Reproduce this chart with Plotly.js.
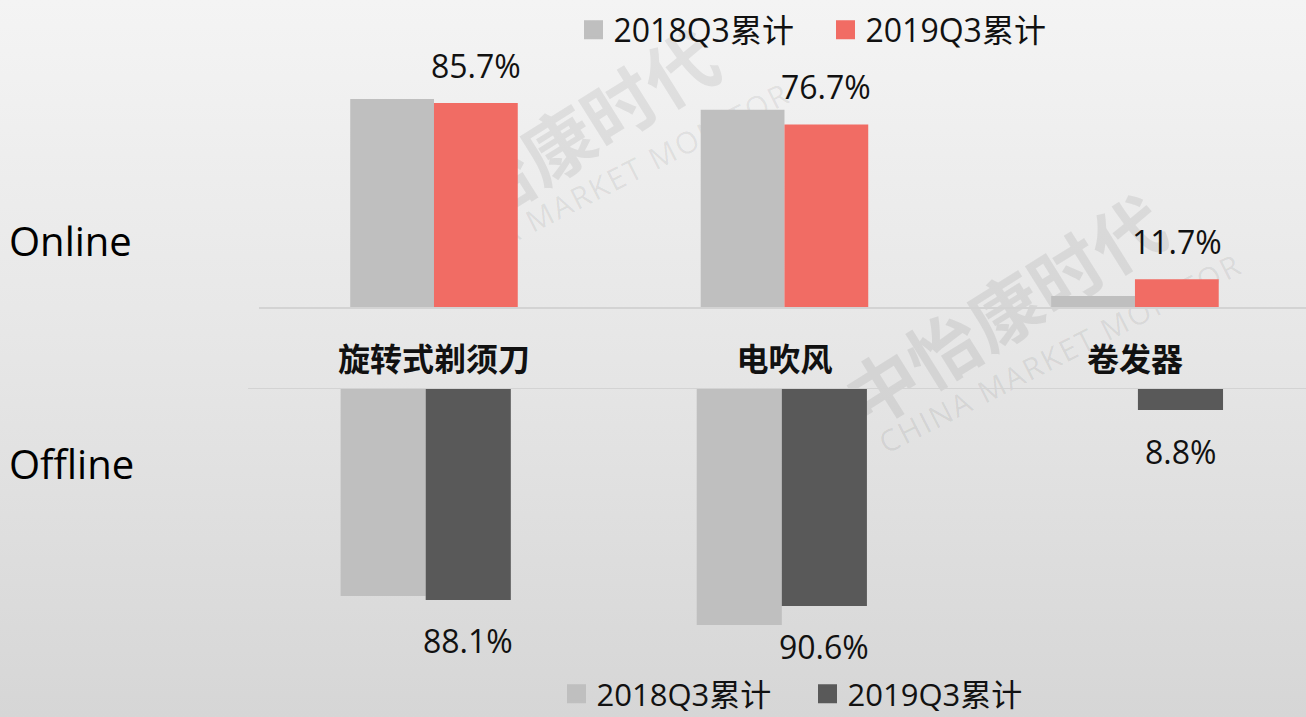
<!DOCTYPE html>
<html>
<head>
<meta charset="utf-8">
<script src="https://cdn.plot.ly/plotly-3.0.1.min.js"></script>
<style>
html,body{margin:0;padding:0;}
#wrap{position:relative;width:1306px;height:717px;background:linear-gradient(to bottom,#f4f4f4 0%,#e6e6e6 50%,#d6d6d6 100%);overflow:hidden;}
.wm{position:absolute;white-space:nowrap;color:rgba(0,0,0,0.075);font-family:"Noto Sans CJK SC",sans-serif;transform-origin:center center;}
.wm.cn{font-weight:bold;font-size:72px;}
.wm.en{font-family:"Open Sans",sans-serif;font-size:30px;letter-spacing:2px;}
#chart{position:absolute;left:0;top:0;width:1306px;height:717px;}
</style>
</head>
<body>
<div id="wrap">
  <div class="wm cn" style="left:556px;top:142px;transform:translate(-50%,-50%) rotate(-32deg);">中怡康时代</div>
  <div class="wm en" style="left:608px;top:182px;transform:translate(-50%,-50%) rotate(-27deg);">CHINA MARKET MONITOR</div>
  <div class="wm cn" style="left:1003px;top:308px;transform:translate(-50%,-50%) rotate(-32deg);">中怡康时代</div>
  <div class="wm en" style="left:1060px;top:353px;transform:translate(-50%,-50%) rotate(-27deg);">CHINA MARKET MONITOR</div>
  <div id="chart"></div>
</div>
<script>
// ---- data ----
const categories = ['旋转式剃须刀', '电吹风', '卷发器'];
const seriesNames = ['2018Q3累计', '2019Q3累计'];
const channelLabels = ['Online', 'Offline'];
const online2018 = [87.4, 82.9, 4.6];
const online2019 = [85.7, 76.7, 11.7];
const offline2018 = [86.5, 98.6, 0];
const offline2019 = [88.1, 90.6, 8.8];

// ---- styles ----
const W = 1306, H = 717;
const FONT = '"Open Sans", "Noto Sans CJK SC", sans-serif';
const C_GRAY = '#bfbfbf', C_RED = '#f16c64', C_DARK = '#595959';
const LINE = '#d3d3d3';

function bar(y, color, xa, ya) {
  return {type: 'bar', x: categories, y: y, xaxis: xa, yaxis: ya,
          marker: {color: color, line: {width: 0}}, showlegend: false, hoverinfo: 'skip'};
}
function legendEntry(name, color, leg, xa, ya) {
  return {type: 'scatter', mode: 'markers', x: [null], y: [null], xaxis: xa, yaxis: ya,
          name: name, legend: leg, showlegend: true, hoverinfo: 'skip',
          marker: {symbol: 'square', size: 16, color: color, line: {color: color, width: 3}}};
}

const data = [
  bar(online2018, C_GRAY, 'x', 'y'),
  bar(online2019, C_RED, 'x', 'y'),
  bar(offline2018, C_GRAY, 'x2', 'y2'),
  bar(offline2019, C_DARK, 'x2', 'y2'),
  legendEntry(seriesNames[0], C_GRAY, 'legend', 'x', 'y'),
  legendEntry(seriesNames[1], C_RED, 'legend', 'x', 'y'),
  legendEntry(seriesNames[0], C_GRAY, 'legend2', 'x2', 'y2'),
  legendEntry(seriesNames[1], C_DARK, 'legend2', 'x2', 'y2')
];

const annotations = [];
online2019.forEach((v, i) => annotations.push({
  xref: 'x', yref: 'y', x: categories[i], y: v, text: v.toFixed(1) + '%',
  xshift: 42, yshift: 38, showarrow: false, yanchor: 'middle',
  font: {family: FONT, size: 32, color: '#111'}
}));
offline2019.forEach((v, i) => annotations.push({
  xref: 'x2', yref: 'y2', x: categories[i], y: v, text: v.toFixed(1) + '%',
  xshift: 42.5, yshift: -41, showarrow: false, yanchor: 'middle',
  font: {family: FONT, size: 32, color: '#111'}
}));
annotations.push({xref: 'paper', yref: 'paper', x: 7 / W, y: 1 - 240 / H, xanchor: 'left', yanchor: 'middle',
  text: channelLabels[0], showarrow: false, font: {family: FONT, size: 40, color: '#000'}});
annotations.push({xref: 'paper', yref: 'paper', x: 7 / W, y: 1 - 463 / H, xanchor: 'left', yanchor: 'middle',
  text: channelLabels[1], showarrow: false, font: {family: FONT, size: 40, color: '#000'}});

const legendBase = {orientation: 'h', xanchor: 'left', yanchor: 'middle', bgcolor: 'rgba(0,0,0,0)',
  borderwidth: 0, entrywidthmode: 'pixels', traceorder: 'normal',
  font: {family: FONT, size: 32, color: '#111'}};

const layout = {
  width: W, height: H,
  margin: {l: 0, r: 0, t: 0, b: 0, pad: 0, autoexpand: false},
  paper_bgcolor: 'rgba(0,0,0,0)', plot_bgcolor: 'rgba(0,0,0,0)',
  barmode: 'group', bargap: 0.522, bargroupgap: 0,
  showlegend: true,
  xaxis: {domain: [258.75 / W, 1], range: [-0.5, 2.488], anchor: 'y', type: 'category',
    showgrid: false, zeroline: false, showline: true, linecolor: LINE, linewidth: 1.5,
    ticks: 'outside', ticklen: 24, tickcolor: 'rgba(0,0,0,0)',
    tickfont: {family: '"Noto Sans CJK SC", sans-serif', size: 32, weight: 'bold', color: '#111'},
    fixedrange: true},
  yaxis: {domain: [1 - 307 / H, 1], range: [0, 129], visible: false, fixedrange: true},
  xaxis2: {domain: [247.65 / W, 1], range: [-0.5, 2.472], anchor: 'y2', side: 'top', type: 'category',
    showgrid: false, zeroline: false, showline: true, linecolor: LINE, linewidth: 1.5,
    showticklabels: false, ticks: '', fixedrange: true},
  yaxis2: {domain: [0, 1 - 389 / H], range: [137, 0], visible: false, fixedrange: true},
  legend: Object.assign({}, legendBase, {x: 573.5 / W, y: 1 - 30 / H, entrywidth: 207}),
  legend2: Object.assign({}, legendBase, {x: 556.5 / W, y: 1 - 694 / H, entrywidth: 206,
    font: {family: FONT, size: 31, color: '#111'}}),
  annotations: annotations
};

Plotly.newPlot('chart', data, layout, {displayModeBar: false, staticPlot: true});
</script>
</body>
</html>
